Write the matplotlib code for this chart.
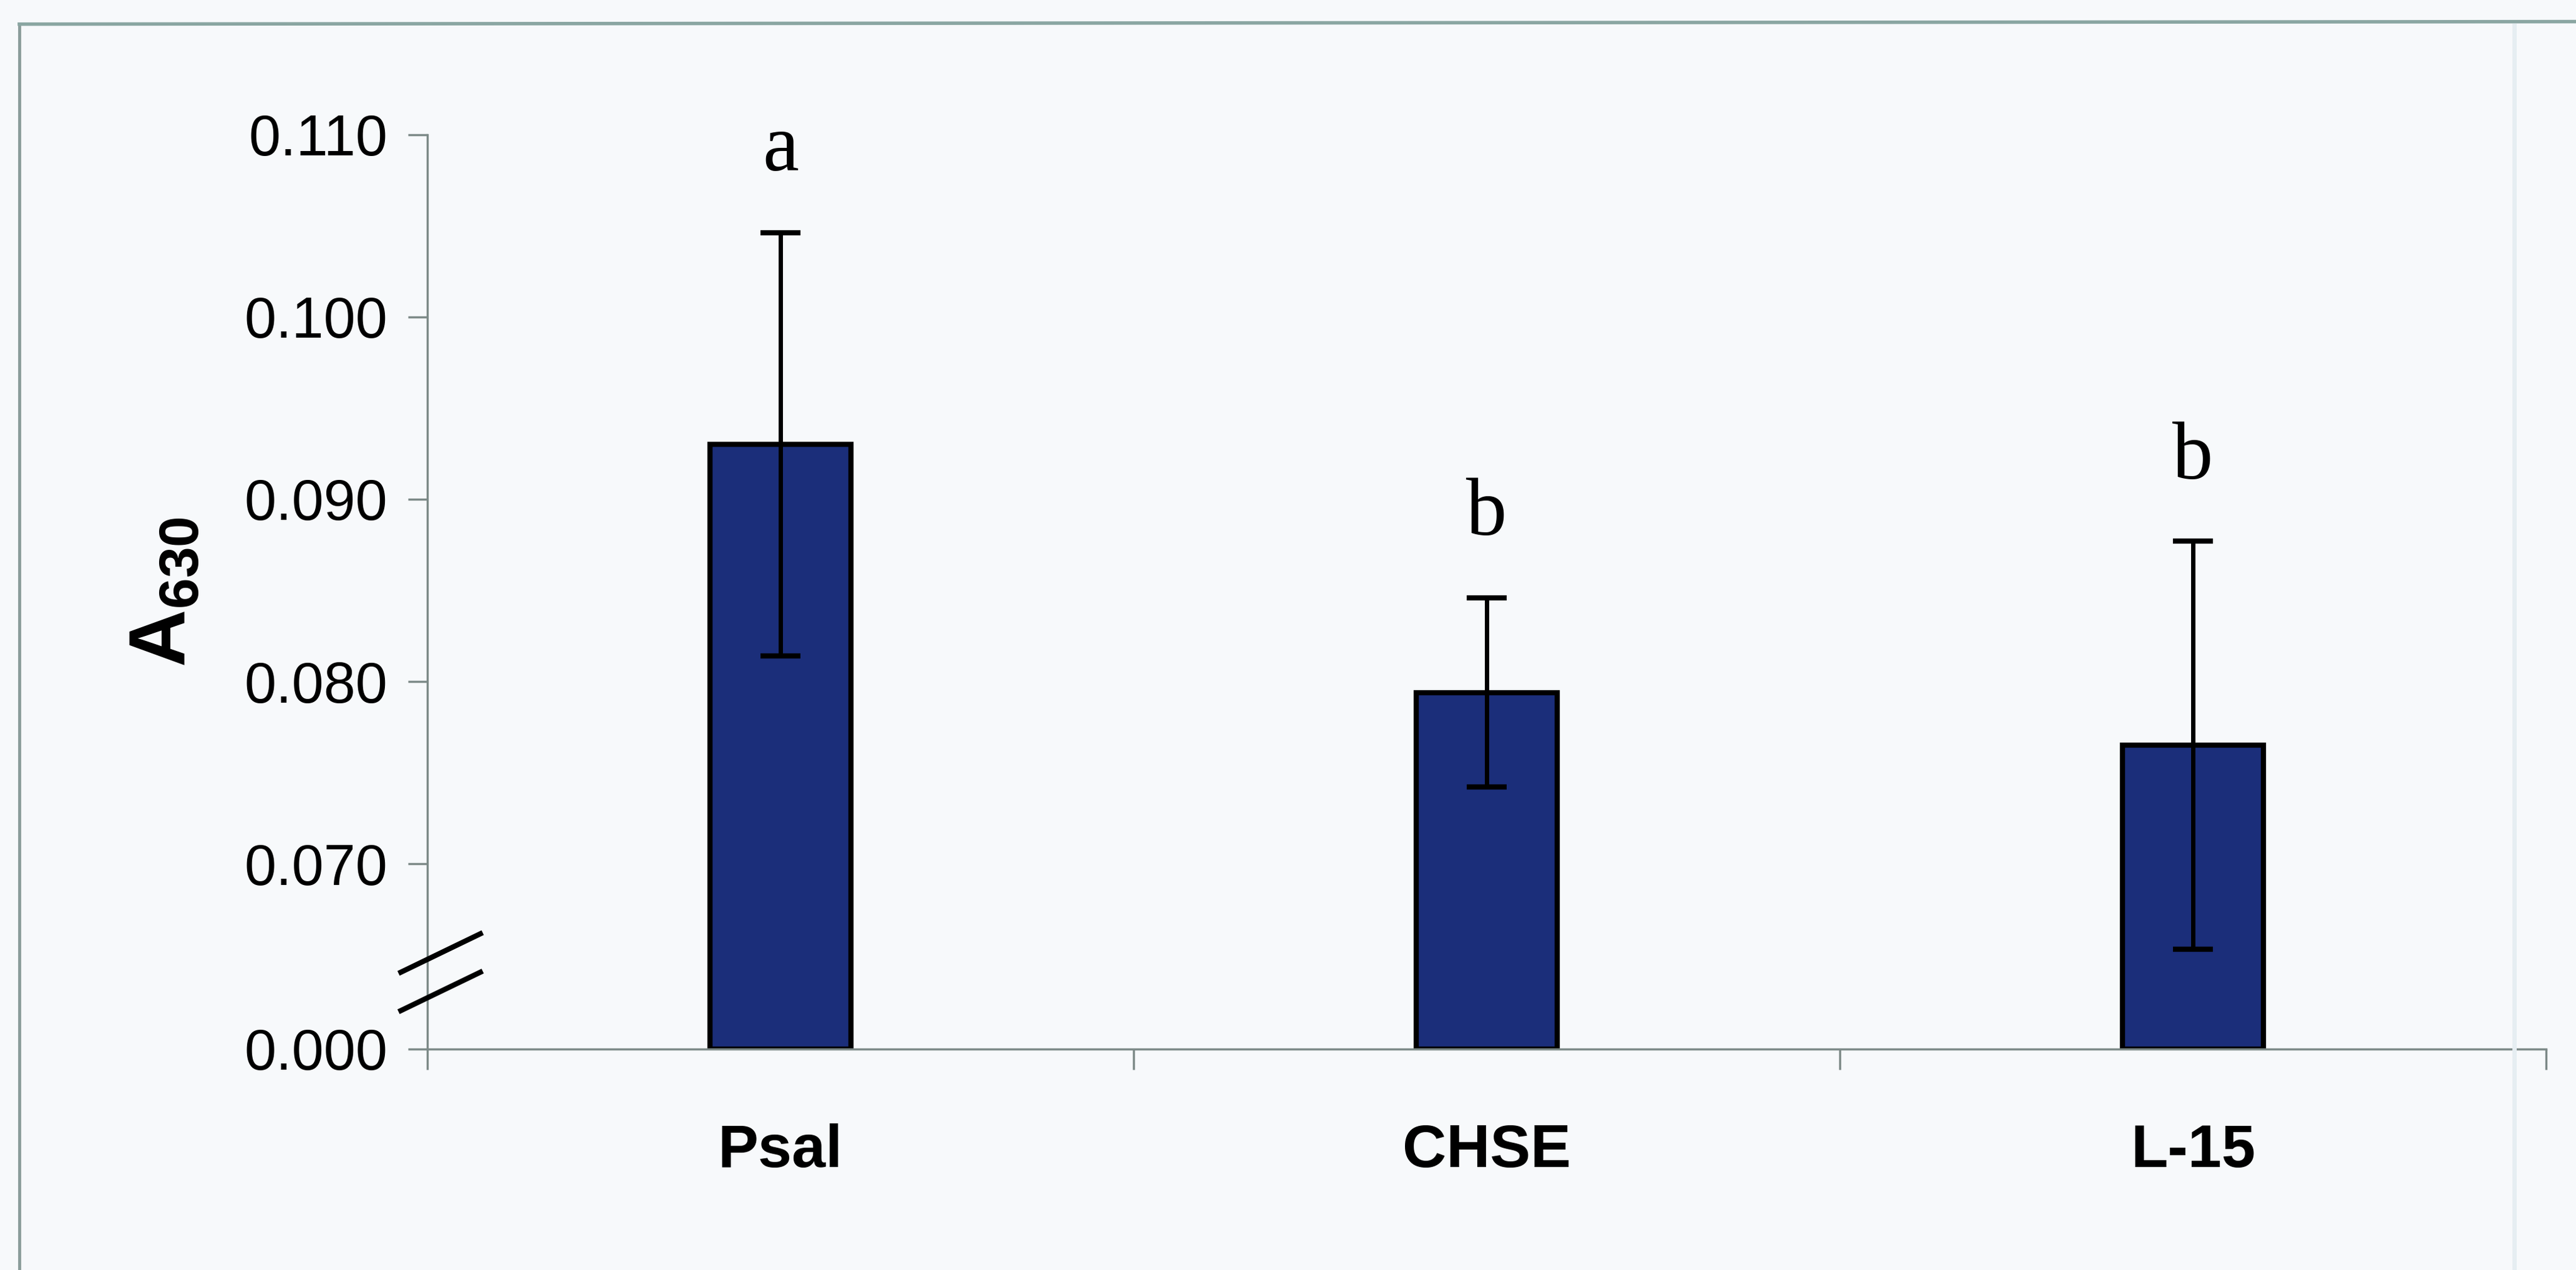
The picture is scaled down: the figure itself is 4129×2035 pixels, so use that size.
import numpy as np
import matplotlib
matplotlib.use("Agg")
import matplotlib.pyplot as plt
from matplotlib.lines import Line2D
from matplotlib.ticker import FixedLocator, FixedFormatter

# data
groups = ["Psal", "CHSE", "L-15"]
a630_mean = [0.0930, 0.0794, 0.0765]
a630_err = [0.0116, 0.0052, 0.0112]
sig_letters = ["a", "b", "b"]
ytick_vals = [0.000, 0.070, 0.080, 0.090, 0.100, 0.110]

# broken y axis: linear above LOW, everything from 0 to LOW squashed flat
LOW = 0.0599


def fwd(v):
    v = np.asarray(v, dtype=float)
    return np.where(v >= LOW, v, LOW - (LOW - v) * 1e-3)


def inv(u):
    u = np.asarray(u, dtype=float)
    return np.where(u >= LOW, u, LOW - (LOW - u) * 1e3)


plt.rcParams['font.family'] = ['Liberation Sans', 'DejaVu Sans']
plt.rcParams['mathtext.fontset'] = 'custom'
plt.rcParams['mathtext.bf'] = 'Liberation Sans:bold'
plt.rcParams['mathtext.rm'] = 'Liberation Sans'

bg = '#f7f9fb'
axis_col = '#7d8a88'

fig = plt.figure(figsize=(41.29, 20.35), dpi=100, facecolor=bg)
ax = fig.add_axes([0.1659, 0.174, 0.8225, 0.720])
ax.set_facecolor(bg)

x = np.arange(len(groups))
ax.bar(x, a630_mean, width=0.2, color='#1b2e7a', edgecolor='black',
       linewidth=6, zorder=2)
ax.errorbar(x, a630_mean, yerr=a630_err, fmt='none', ecolor='black',
            elinewidth=5, capsize=23, capthick=6, zorder=3)

for xi, m, e, lab in zip(x, a630_mean, a630_err, sig_letters):
    ax.annotate(lab, (xi, m + e), xytext=(0, 52), textcoords='offset points',
                ha='center', va='bottom', fontsize=94,
                family=['Liberation Serif', 'DejaVu Serif'])

ax.set_yscale('function', functions=(fwd, inv))
ax.set_ylim(0, 0.110)
ax.set_xlim(-0.5, len(groups) - 0.5)

ax.yaxis.set_major_locator(FixedLocator(ytick_vals))
ax.yaxis.set_major_formatter(FixedFormatter([f'{v:.3f}' for v in ytick_vals]))
ax.yaxis.set_minor_locator(FixedLocator([]))
ax.tick_params(axis='y', which='major', direction='out', length=22, width=2.5,
               color=axis_col, pad=24, labelsize=66)

ax.set_xticks(x)
ax.set_xticklabels(groups, fontweight='bold', fontsize=70)
ax.set_xticks(np.arange(len(groups) + 1) - 0.5, minor=True)
ax.tick_params(axis='x', which='major', length=0, pad=86)
ax.tick_params(axis='x', which='minor', direction='out', length=24, width=2.5,
               color=axis_col)

for side in ['top', 'right']:
    ax.spines[side].set_visible(False)
for side in ['left', 'bottom']:
    ax.spines[side].set_color(axis_col)
    ax.spines[side].set_linewidth(2.5)

ax.set_ylabel(r'$\mathbf{A}_{\mathbf{630}}$', fontsize=92)
ax.yaxis.set_label_coords(-0.106, 0.5)

# axis break marks
for y0 in (0.084, 0.042):
    ax.plot([-0.0125, 0.025], [y0, y0 + 0.042], color='black', lw=6,
            transform=ax.transAxes, clip_on=False, zorder=4)

# scanned page frame
fig.add_artist(Line2D([0.0075, 0.0075], [0.0, 0.981], transform=fig.transFigure,
                      color='#8a9c9a', lw=3.5))
fig.add_artist(Line2D([0.0075, 1.0], [0.981, 0.983], transform=fig.transFigure,
                      color='#8aa6a2', lw=4))
fig.add_artist(Line2D([0.976, 0.976], [0.0, 0.98], transform=fig.transFigure,
                      color='#e6eef2', lw=5))

fig.savefig('out.png', dpi=100, facecolor=bg)
